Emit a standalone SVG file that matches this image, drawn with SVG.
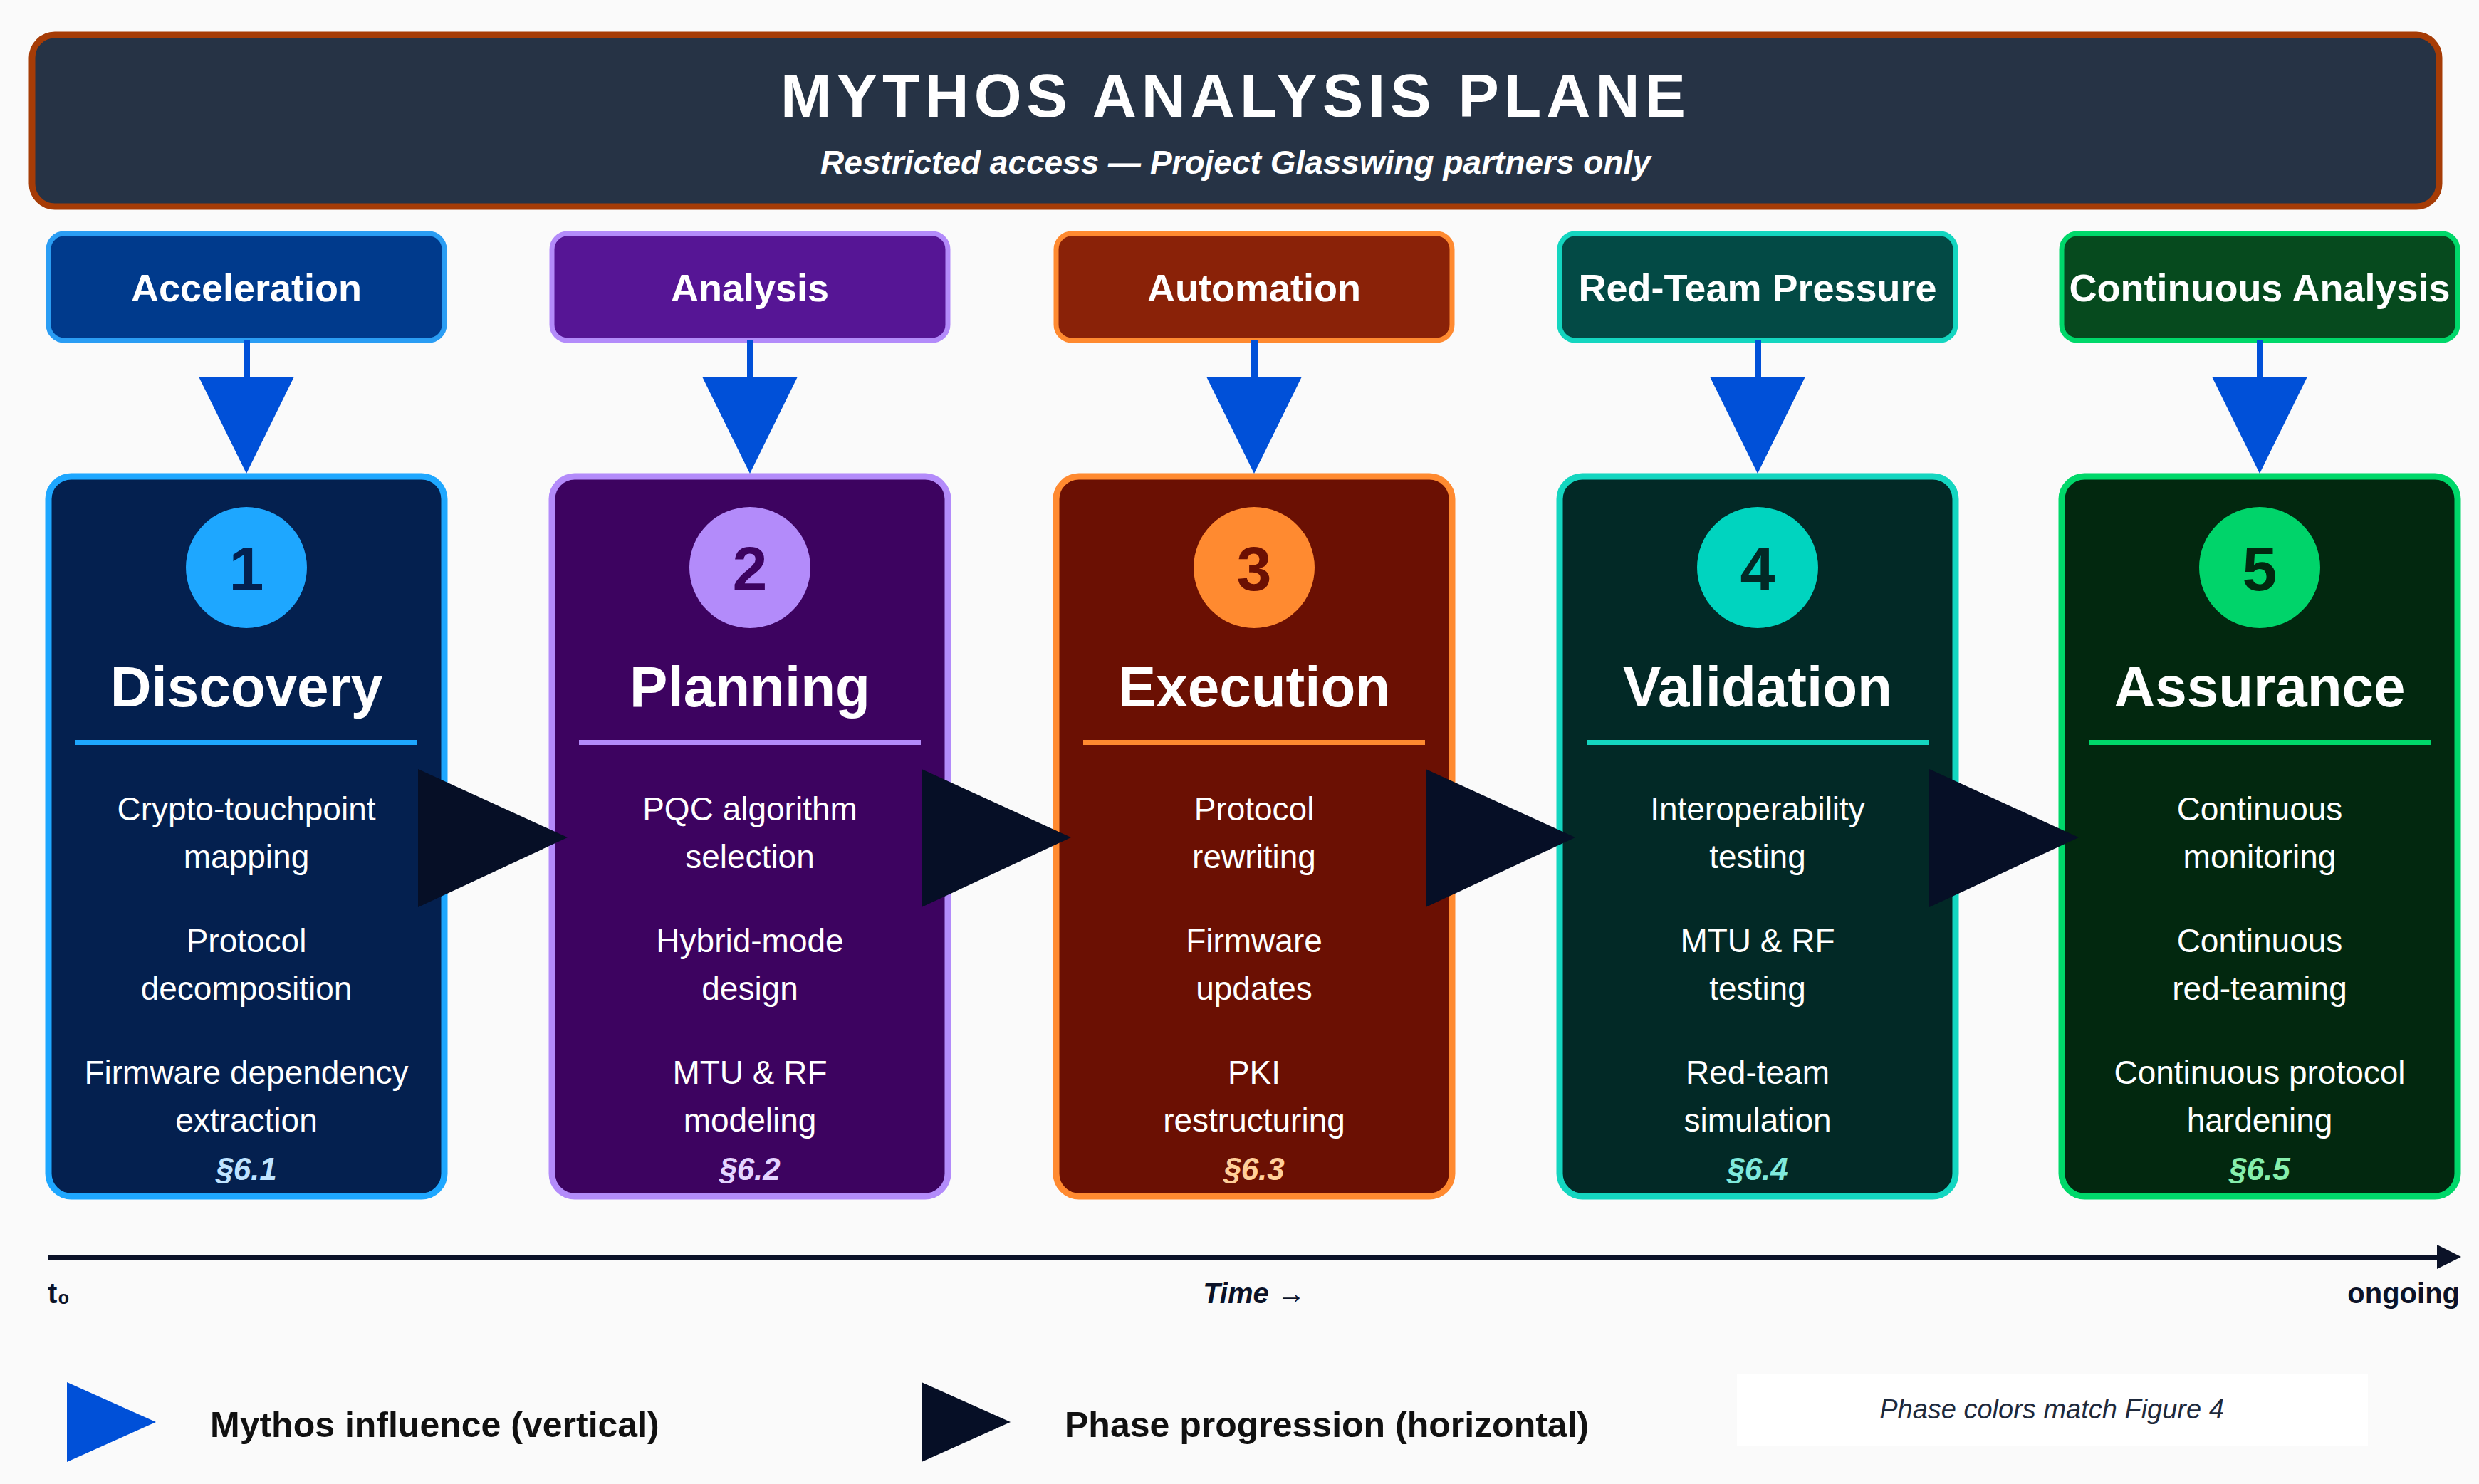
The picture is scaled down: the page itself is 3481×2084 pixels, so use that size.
<svg xmlns="http://www.w3.org/2000/svg" width="3481" height="2084" viewBox="0 0 3481 2084">
<style>
text{font-family:"Liberation Sans",Arial,sans-serif;}
.tb{font-size:54px;font-weight:bold;fill:#fff;text-anchor:middle}
.num{font-size:88px;font-weight:bold;text-anchor:middle}
.name{font-size:80px;font-weight:bold;fill:#fff;text-anchor:middle}
.it{font-size:46px;fill:#fff;text-anchor:middle}
.sec{font-size:44px;font-weight:bold;font-style:italic;text-anchor:middle}
.blue{fill:#0050d8}
.dark{fill:#060f26}
</style>
<rect width="3481" height="2084" fill="#fafafa"/>
<g id="title">
<rect x="45" y="49" width="3380" height="241" rx="32" fill="#263345" stroke="#a63c06" stroke-width="9"/>
<text x="1735" y="164" text-anchor="middle" font-size="86" font-weight="bold" fill="#fff" letter-spacing="7">MYTHOS ANALYSIS PLANE</text>
<text x="1735" y="244" text-anchor="middle" font-size="46" font-weight="bold" font-style="italic" fill="#fff">Restricted access — Project Glasswing partners only</text>
</g>
<g id="top1"><rect x="68" y="328" width="556" height="150" rx="22" fill="#003a8c" stroke="#2a9df4" stroke-width="7"/><text class="tb" x="346" y="423">Acceleration</text></g>
<g id="top2"><rect x="775" y="328" width="556" height="150" rx="22" fill="#561595" stroke="#b38bfa" stroke-width="7"/><text class="tb" x="1053" y="423">Analysis</text></g>
<g id="top3"><rect x="1483" y="328" width="556" height="150" rx="22" fill="#8a2208" stroke="#ff8a30" stroke-width="7"/><text class="tb" x="1761" y="423">Automation</text></g>
<g id="top4"><rect x="2190" y="328" width="556" height="150" rx="22" fill="#034a45" stroke="#14d6c0" stroke-width="7"/><text class="tb" x="2468" y="423">Red-Team Pressure</text></g>
<g id="top5"><rect x="2895" y="328" width="556" height="150" rx="22" fill="#064a1e" stroke="#00d86a" stroke-width="7"/><text class="tb" x="3173" y="423">Continuous Analysis</text></g>

<g id="phase1">
<rect x="68" y="669" width="556" height="1011" rx="32" fill="#04204f" stroke="#1ea7ff" stroke-width="9"/>
<circle cx="346" cy="797" r="85" fill="#1ea7ff"/><text class="num" x="346" y="829" fill="#04204f">1</text>
<text class="name" x="346" y="992">Discovery</text>
<rect x="106" y="1039" width="480" height="7" fill="#1ea7ff"/>
<text class="it" x="346" y="1152">Crypto-touchpoint</text><text class="it" x="346" y="1219">mapping</text>
<text class="it" x="346" y="1337">Protocol</text><text class="it" x="346" y="1404">decomposition</text>
<text class="it" x="346" y="1522">Firmware dependency</text><text class="it" x="346" y="1589">extraction</text>
<text class="sec" x="346" y="1657" fill="#bfe3ff">§6.1</text>
</g>
<g id="phase2">
<rect x="775" y="669" width="556" height="1011" rx="32" fill="#3d0360" stroke="#b38bfa" stroke-width="9"/>
<circle cx="1053" cy="797" r="85" fill="#b38bfa"/><text class="num" x="1053" y="829" fill="#3d0360">2</text>
<text class="name" x="1053" y="992">Planning</text>
<rect x="813" y="1039" width="480" height="7" fill="#b38bfa"/>
<text class="it" x="1053" y="1152">PQC algorithm</text><text class="it" x="1053" y="1219">selection</text>
<text class="it" x="1053" y="1337">Hybrid-mode</text><text class="it" x="1053" y="1404">design</text>
<text class="it" x="1053" y="1522">MTU &amp; RF</text><text class="it" x="1053" y="1589">modeling</text>
<text class="sec" x="1053" y="1657" fill="#e4d4ff">§6.2</text>
</g>
<g id="phase3">
<rect x="1483" y="669" width="556" height="1011" rx="32" fill="#6b1003" stroke="#ff8a30" stroke-width="9"/>
<circle cx="1761" cy="797" r="85" fill="#ff8a30"/><text class="num" x="1761" y="829" fill="#6b1003">3</text>
<text class="name" x="1761" y="992">Execution</text>
<rect x="1521" y="1039" width="480" height="7" fill="#ff8a30"/>
<text class="it" x="1761" y="1152">Protocol</text><text class="it" x="1761" y="1219">rewriting</text>
<text class="it" x="1761" y="1337">Firmware</text><text class="it" x="1761" y="1404">updates</text>
<text class="it" x="1761" y="1522">PKI</text><text class="it" x="1761" y="1589">restructuring</text>
<text class="sec" x="1761" y="1657" fill="#ffcf9a">§6.3</text>
</g>
<g id="phase4">
<rect x="2190" y="669" width="556" height="1011" rx="32" fill="#022926" stroke="#14d6c0" stroke-width="9"/>
<circle cx="2468" cy="797" r="85" fill="#00d4bf"/><text class="num" x="2468" y="829" fill="#022926">4</text>
<text class="name" x="2468" y="992">Validation</text>
<rect x="2228" y="1039" width="480" height="7" fill="#14d6c0"/>
<text class="it" x="2468" y="1152">Interoperability</text><text class="it" x="2468" y="1219">testing</text>
<text class="it" x="2468" y="1337">MTU &amp; RF</text><text class="it" x="2468" y="1404">testing</text>
<text class="it" x="2468" y="1522">Red-team</text><text class="it" x="2468" y="1589">simulation</text>
<text class="sec" x="2468" y="1657" fill="#7fe9dc">§6.4</text>
</g>
<g id="phase5">
<rect x="2895" y="669" width="556" height="1011" rx="32" fill="#02280f" stroke="#00d86a" stroke-width="9"/>
<circle cx="3173" cy="797" r="85" fill="#00d46a"/><text class="num" x="3173" y="829" fill="#02280f">5</text>
<text class="name" x="3173" y="992">Assurance</text>
<rect x="2933" y="1039" width="480" height="7" fill="#00d86a"/>
<text class="it" x="3173" y="1152">Continuous</text><text class="it" x="3173" y="1219">monitoring</text>
<text class="it" x="3173" y="1337">Continuous</text><text class="it" x="3173" y="1404">red-teaming</text>
<text class="it" x="3173" y="1522">Continuous protocol</text><text class="it" x="3173" y="1589">hardening</text>
<text class="sec" x="3173" y="1657" fill="#86efac">§6.5</text>
</g>

<g id="connectors">
<g class="blue">
<rect x="342" y="477" width="9" height="54"/><polygon points="279,529 413,529 346,665"/>
<rect x="1049" y="477" width="9" height="54"/><polygon points="986,529 1120,529 1053,665"/>
<rect x="1757" y="477" width="9" height="54"/><polygon points="1694,529 1828,529 1761,665"/>
<rect x="2464" y="477" width="9" height="54"/><polygon points="2401,529 2535,529 2468,665"/>
<rect x="3169" y="477" width="9" height="54"/><polygon points="3106,529 3240,529 3173,665"/>
</g>
<g class="dark">
<polygon points="587,1080 797,1176 587,1274"/>
<polygon points="1294,1080 1504,1176 1294,1274"/>
<polygon points="2002,1080 2212,1176 2002,1274"/>
<polygon points="2709,1080 2919,1176 2709,1274"/>
</g>
<g id="timeline">
<rect x="67" y="1762" width="3360" height="7" fill="#0b1228"/>
<polygon points="3422,1748 3456,1765 3422,1782" fill="#0b1228"/>
</g>
</g>
<text x="67" y="1830" font-size="40" font-weight="bold" fill="#0b1228">t₀</text>
<text x="1761" y="1830" font-size="40" font-weight="bold" font-style="italic" fill="#0b1228" text-anchor="middle">Time →</text>
<text x="3454" y="1830" font-size="40" font-weight="bold" fill="#0b1228" text-anchor="end">ongoing</text>

<g id="legend">
<polygon points="94,1941 219,1997 94,2053" class="blue"/>
<text x="295" y="2018" font-size="50" font-weight="bold" fill="#111">Mythos influence (vertical)</text>
<polygon points="1294,1941 1419,1997 1294,2053" class="dark"/>
<text x="1495" y="2018" font-size="50" font-weight="bold" fill="#111">Phase progression (horizontal)</text>
<rect x="2439" y="1930" width="886" height="100" fill="#ffffff"/>
<text x="2881" y="1992" font-size="38" font-style="italic" fill="#1e293b" text-anchor="middle" font-family="'Open Sans',sans-serif">Phase colors match Figure 4</text>
</g>
</svg>
